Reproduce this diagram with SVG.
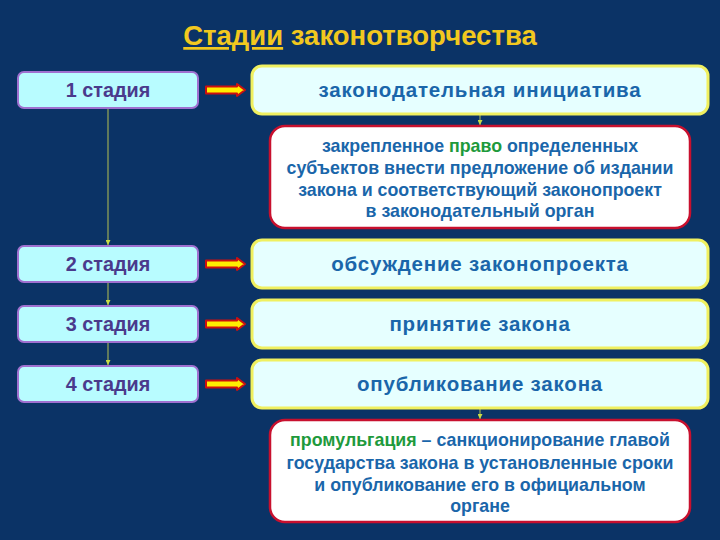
<svg xmlns="http://www.w3.org/2000/svg" width="720" height="540" viewBox="0 0 720 540">
<defs>
<style>
text{font-family:"Liberation Sans",Arial,sans-serif;font-weight:bold;text-anchor:middle}
.stage rect{fill:#b8fcff;stroke:#a070d0;stroke-width:2}
.stage text{fill:#4a3a8c;font-size:19.8px}
.step rect{fill:#e6ffff;stroke:#f0f060;stroke-width:3}
.step text{fill:#1a66aa;font-size:20.5px;letter-spacing:0.8px}
.def rect{fill:#ffffff;stroke:#c8102e;stroke-width:2.5}
.def text{fill:#1a66aa;font-size:17.8px}
.g{fill:#1e9a3c}
.vline{stroke:#9aaa55;stroke-width:1.2;fill:none}
.arr{fill:#ffee00;stroke:#cc1010;stroke-width:2;stroke-linejoin:round}
</style>
<marker id="sm" viewBox="0 0 6 6" refX="6" refY="3" markerWidth="5" markerHeight="5" orient="auto" markerUnits="userSpaceOnUse"><path d="M0,0 L6,3 L0,6 z" fill="#c8dd44"/></marker>
</defs>
<rect width="720" height="540" fill="#0b3366"/>
<g id="title">
<text x="360" y="45" font-size="27.5" fill="#f2c81e"><tspan text-decoration="underline">Стадии</tspan> законотворчества</text>
</g>
<g id="connectors">
<line class="vline" x1="108" y1="108" x2="108" y2="245" marker-end="url(#sm)"/>
<line class="vline" x1="108" y1="282" x2="108" y2="305" marker-end="url(#sm)"/>
<line class="vline" x1="108" y1="342" x2="108" y2="365" marker-end="url(#sm)"/>
<line class="vline" x1="480" y1="114" x2="480" y2="125" marker-end="url(#sm)"/>
<line class="vline" x1="480" y1="408" x2="480" y2="419" marker-end="url(#sm)"/>
<path class="arr" d="M206,86.5 H237 V84 L245,90 L237,96 V93.5 H206 Z"/>
<path class="arr" d="M206,86.5 H237 V84 L245,90 L237,96 V93.5 H206 Z" transform="translate(0,174)"/>
<path class="arr" d="M206,86.5 H237 V84 L245,90 L237,96 V93.5 H206 Z" transform="translate(0,234)"/>
<path class="arr" d="M206,86.5 H237 V84 L245,90 L237,96 V93.5 H206 Z" transform="translate(0,294)"/>
</g>
<g id="stage1" class="stage"><rect x="18" y="72" width="180" height="36" rx="6"/><text x="108" y="97">1 стадия</text></g>
<g id="stage2" class="stage"><rect x="18" y="246" width="180" height="36" rx="6"/><text x="108" y="271">2 стадия</text></g>
<g id="stage3" class="stage"><rect x="18" y="306" width="180" height="36" rx="6"/><text x="108" y="331">3 стадия</text></g>
<g id="stage4" class="stage"><rect x="18" y="366" width="180" height="36" rx="6"/><text x="108" y="391">4 стадия</text></g>
<g id="step1" class="step"><rect x="252" y="66" width="456" height="48" rx="10"/><text x="480" y="97">законодательная инициатива</text></g>
<g id="step2" class="step"><rect x="252" y="240" width="456" height="48" rx="10"/><text x="480" y="271">обсуждение законопроекта</text></g>
<g id="step3" class="step"><rect x="252" y="300" width="456" height="48" rx="10"/><text x="480" y="331">принятие закона</text></g>
<g id="step4" class="step"><rect x="252" y="360" width="456" height="48" rx="10"/><text x="480" y="391">опубликование закона</text></g>
<g id="def1" class="def"><rect x="270" y="126" width="420" height="102" rx="15"/>
<text x="480" y="152">закрепленное <tspan class="g">право</tspan> определенных</text>
<text x="480" y="174">субъектов внести предложение об издании</text>
<text x="480" y="196">закона и соответствующий законопроект</text>
<text x="480" y="217">в законодательный орган</text>
</g>
<g id="def2" class="def"><rect x="270" y="420" width="420" height="102" rx="15"/>
<text x="480" y="446"><tspan class="g">промульгация</tspan> – санкционирование главой</text>
<text x="480" y="469">государства закона в установленные сроки</text>
<text x="480" y="491">и опубликование его в официальном</text>
<text x="480" y="512">органе</text>
</g>
</svg>
